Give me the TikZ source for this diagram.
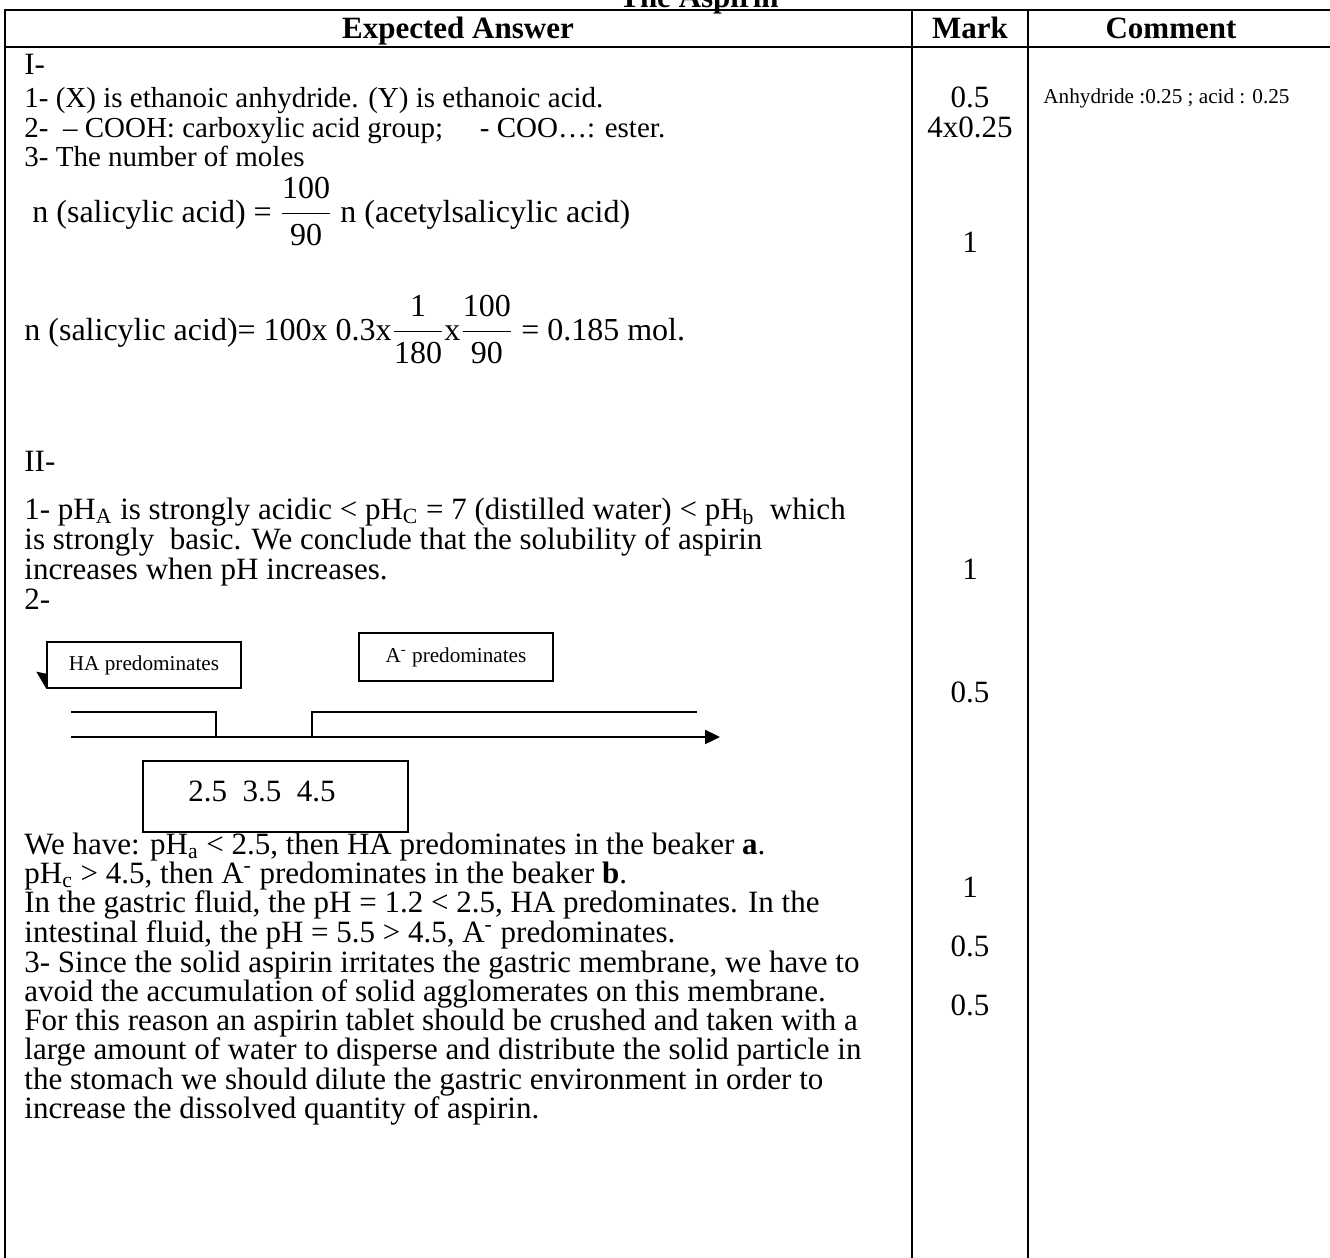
\documentclass[tikz,border=0pt]{standalone}
\usepackage{fontspec}
\setmainfont{Liberation Serif}
\usepackage{amsmath}
\usetikzlibrary{arrows.meta}

\newcommand{\bodysize}{\fontsize{15.5}{18}\selectfont}
\newcommand{\partsize}{\fontsize{14.5}{17}\selectfont}
\newcommand{\eqsize}{\fontsize{16}{19}\selectfont}
\newcommand{\notesize}{\fontsize{10.6}{12}\selectfont}

\tikzset{
  txt/.style={anchor=base west,inner sep=0pt,font=\bodysize},
  mk/.style={anchor=base,inner sep=0pt,font=\bodysize},
  head/.style={anchor=base,inner sep=0pt,font=\bodysize\bfseries},
  rule/.style={line width=1.2pt},
  col/.style={line width=1pt},
  tagbox/.style={draw,line width=0.7pt,inner sep=0pt,font=\notesize},
}

\begin{document}
\begin{tikzpicture}[x=0.5pt,y=-0.5pt]
\useasboundingbox (0,0) rectangle (1330,1258);
% Title and table frame
\node (title) [head] at (699,7) {The Aspirin};
\draw[rule] (5,10) -- (1340,10);
\draw[rule] (5,47) -- (1340,47);
\draw[col] (5,9) -- (5,1260);
\draw[col] (912,9) -- (912,1260);
\draw[col] (1028,9) -- (1028,1260);
\node (hans) [head] at (458,39) {Expected Answer};
\node (hmark) [head] at (970,39) {Mark};
\node (hcom) [head] at (1171,39) {Comment};
% Part I
\node (p1) [txt] at (24,75) {I-};
\node (q1) [txt,font=\partsize] at (24,107) {1- (X) is ethanoic anhydride. (Y) is ethanoic acid.};
\node (q2) [txt,font=\partsize] at (24,137) {2-\ \ – COOH: carboxylic acid group;};
\node (q2b) [txt,font=\partsize] at ([xshift=18pt]q2.base east) {- COO…: ester.};
\node (q3) [txt,font=\partsize] at (24,166) {3- The number of moles};
\node (eq1) [txt,font=\eqsize] at (32,222) {n (salicylic acid) = $\dfrac{\text{100}}{\text{90}}$ n (acetylsalicylic acid)};
\node (eq2) [txt,font=\eqsize] at (24,340) {n (salicylic acid)= 100x 0.3x$\dfrac{\text{1}}{\text{180}}$x$\dfrac{\text{100}}{\text{90}}$ = 0.185 mol.};
% Part II
\node (p2) [txt] at (24,471) {II-};
\foreach \i/\y/\l in {1/519/{1- pH\textsubscript{A} is strongly acidic < pH\textsubscript{C} = 7 (distilled water) < pH\textsubscript{b}\ \ which},
                      2/549/{is strongly\ \ basic. We conclude that the solubility of aspirin},
                      3/579/{increases when pH increases.},
                      4/609/{2-}}
  \node (r\i) [txt] at (24,\y) {\l};
% pH scale with the two domains
\node (ha) [tagbox,minimum width=97pt,minimum height=23pt] at (144,665) {HA predominates};
\fill (ha.south west) -- ++(0,-15) -- ++(-10,-2) -- cycle;
\node (am) [tagbox,minimum width=97pt,minimum height=24pt] at (456,657) {A\textsuperscript{-} predominates};
\draw[line width=0.75pt] (71,712) -- (216,712) -- (216,737);
\draw[line width=0.75pt] (312,737) -- (312,712) -- (697,712);
\draw[line width=1.2pt,-{Triangle[length=7.5pt,width=7pt]}] (71,737) -- (720,737);
\draw[line width=0.7pt] (143,761) rectangle (408,832);
\node (vals) [txt] at (188,801) {2.5\ \ 3.5\ \ 4.5};
\foreach \i/\y/\l in {1/854/{We have: pH\textsubscript{a} < 2.5, then HA predominates in the beaker \textbf{a}.},
                      2/883/{pH\textsubscript{c} > 4.5, then A\textsuperscript{-} predominates in the beaker \textbf{b}.},
                      3/912/{In the gastric fluid, the pH = 1.2 < 2.5, HA predominates. In the},
                      4/942/{intestinal fluid, the pH = 5.5 > 4.5, A\textsuperscript{-} predominates.},
                      5/972/{3- Since the solid aspirin irritates the gastric membrane, we have to},
                      6/1001/{avoid the accumulation of solid agglomerates on this membrane.},
                      7/1030/{For this reason an aspirin tablet should be crushed and taken with a},
                      8/1059/{large amount of water to disperse and distribute the solid particle in},
                      9/1089/{the stomach we should dilute the gastric environment in order to},
                      10/1118/{increase the dissolved quantity of aspirin.}}
  \node (s\i) [txt] at (24,\y) {\l};
% Marks and comment
\foreach \i/\y/\m in {1/107/0.5,2/137/4x0.25,3/252/1,4/579/1,5/702/0.5,6/897/1,7/956/0.5,8/1015/0.5}
  \node (m\i) [mk] at (970,\y) {\m};
\node (c1) [txt,font=\notesize] at (1043,104) {Anhydride :0.25 ; acid : 0.25};
\end{tikzpicture}
\end{document}
